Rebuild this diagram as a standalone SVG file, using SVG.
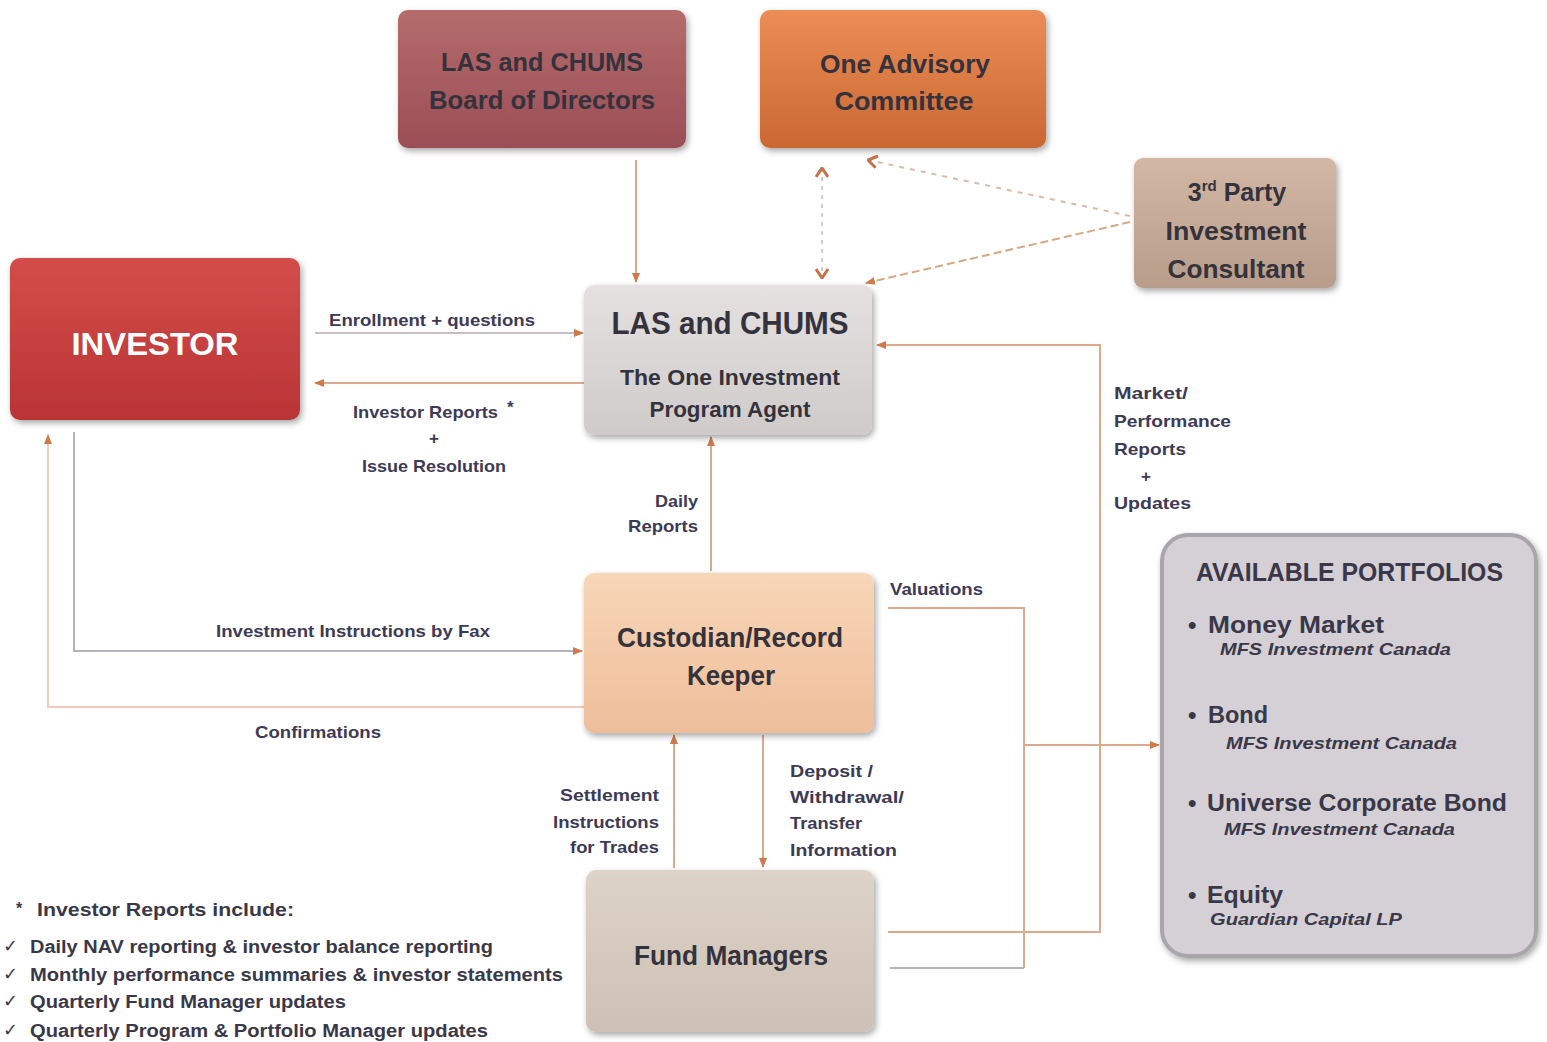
<svg xmlns="http://www.w3.org/2000/svg" width="1547" height="1042" viewBox="0 0 1547 1042">
<style>
.t{font-family:"Liberation Sans",Arial,sans-serif;fill:#3a3848;font-weight:bold}
.n{font-family:"Liberation Sans",Arial,sans-serif;fill:#34323c;font-weight:bold;text-anchor:middle}
.lb{font-family:"Liberation Sans",Arial,sans-serif;fill:#3d3a55;font-weight:bold;font-size:17px}
.it{font-family:"Liberation Sans",Arial,sans-serif;fill:#3a3848;font-weight:bold;font-style:italic;font-size:17px}
.c{fill:none;stroke-width:2}
.pe{stroke:#dca98d}
.gr{stroke:#b4b2ba}
.pk{stroke:#f0cbbd}
.ck{font-family:"DejaVu Sans",sans-serif;fill:#3a3848;font-size:18px}
</style>
<defs>
<filter id="sh" x="-10%" y="-10%" width="125%" height="130%">
<feDropShadow dx="2" dy="3" stdDeviation="3" flood-color="#000" flood-opacity="0.35"/>
</filter>
<linearGradient id="gBoard" x1="0" y1="0" x2="0" y2="1"><stop offset="0" stop-color="#b46c6c"/><stop offset="1" stop-color="#9b4e56"/></linearGradient>
<linearGradient id="gAdv" x1="0" y1="0" x2="0" y2="1"><stop offset="0" stop-color="#ec8d55"/><stop offset="1" stop-color="#cb6733"/></linearGradient>
<linearGradient id="g3rd" x1="0" y1="0" x2="0" y2="1"><stop offset="0" stop-color="#d2b7a4"/><stop offset="1" stop-color="#b99d8b"/></linearGradient>
<linearGradient id="gInv" x1="0" y1="0" x2="0" y2="1"><stop offset="0" stop-color="#d34d4a"/><stop offset="1" stop-color="#b93436"/></linearGradient>
<linearGradient id="gLas" x1="0" y1="0" x2="0" y2="1"><stop offset="0" stop-color="#e4e1e0"/><stop offset="1" stop-color="#cfcbcb"/></linearGradient>
<linearGradient id="gCus" x1="0" y1="0" x2="0" y2="1"><stop offset="0" stop-color="#f8d6b8"/><stop offset="1" stop-color="#eebe9a"/></linearGradient>
<linearGradient id="gFund" x1="0" y1="0" x2="0" y2="1"><stop offset="0" stop-color="#ded3c9"/><stop offset="1" stop-color="#cdc0b4"/></linearGradient>
<marker id="ar" viewBox="0 0 10 10" refX="9" refY="5" markerWidth="10" markerHeight="10" markerUnits="userSpaceOnUse" orient="auto">
<path d="M0 1 L10 5 L0 9 Z" fill="#cf7a4a"/>
</marker>
<marker id="chev" viewBox="0 0 12 14" refX="11" refY="7" markerWidth="12" markerHeight="14" markerUnits="userSpaceOnUse" orient="auto">
<path d="M2 1 L11 7 L2 13" fill="none" stroke="#c8704a" stroke-width="3"/>
</marker>
<marker id="chevS" viewBox="0 0 12 14" refX="1" refY="7" markerWidth="12" markerHeight="14" markerUnits="userSpaceOnUse" orient="auto">
<path d="M10 1 L1 7 L10 13" fill="none" stroke="#c8704a" stroke-width="3"/>
</marker>
</defs>
<rect width="1547" height="1042" fill="#ffffff"/>

<g id="connectors">
<path class="c pe" d="M636 160 V282" marker-end="url(#ar)"/>
<path class="c" stroke="#d4cccc" stroke-dasharray="4 5" d="M822 168 V278" marker-start="url(#chevS)" marker-end="url(#chev)"/>
<path class="c" stroke="#d8bca8" stroke-dasharray="5 6" d="M1130 216 L868 160" marker-end="url(#chev)"/>
<path class="c" stroke="#d6a882" stroke-dasharray="8 4" d="M1130 222 L866 283" marker-end="url(#ar)"/>
<path class="c" stroke="#c6c0c4" d="M315 333 H583" marker-end="url(#ar)"/>
<path class="c pe" d="M584 383 H315" marker-end="url(#ar)"/>
<path class="c pe" d="M711 571 V437" marker-end="url(#ar)"/>
<path class="c gr" d="M74 432 V651 H582" marker-end="url(#ar)"/>
<path class="c pk" d="M584 707 H48 V435" marker-end="url(#ar)"/>
<path class="c pe" d="M674 868 V735" marker-end="url(#ar)"/>
<path class="c pe" d="M763 735 V867" marker-end="url(#ar)"/>
<path class="c pe" d="M888 608 H1024 V968"/>
<path class="c gr" d="M1024 968 H890"/>
<path class="c pe" d="M1024 745 H1159" marker-end="url(#ar)"/>
<path class="c pe" d="M888 932 H1100 V345 H877" marker-end="url(#ar)"/>
</g>

<g id="board">
<rect x="398" y="10" width="288" height="138" rx="10" fill="url(#gBoard)" filter="url(#sh)"/>
<text class="n" x="542" y="71" font-size="25" font-weight="normal" textLength="202" lengthAdjust="spacingAndGlyphs">LAS and CHUMS</text>
<text class="n" x="542" y="109" font-size="25" font-weight="normal" textLength="226" lengthAdjust="spacingAndGlyphs">Board of Directors</text>
</g>

<g id="advisory">
<rect x="760" y="10" width="286" height="138" rx="10" fill="url(#gAdv)" filter="url(#sh)"/>
<text class="n" x="905" y="73" font-size="26" font-weight="normal" textLength="170" lengthAdjust="spacingAndGlyphs">One Advisory</text>
<text class="n" x="904" y="110" font-size="26" font-weight="normal" textLength="139" lengthAdjust="spacingAndGlyphs">Committee</text>
</g>

<g id="consultant">
<rect x="1134" y="158" width="202" height="130" rx="9" fill="url(#g3rd)" filter="url(#sh)"/>
<text class="n" x="1237" y="201" font-size="25">3<tspan font-size="15" dy="-10">rd</tspan><tspan dy="10"> Party</tspan></text>
<text class="n" x="1236" y="240" font-size="25" textLength="141" lengthAdjust="spacingAndGlyphs">Investment</text>
<text class="n" x="1236" y="278" font-size="25" textLength="137" lengthAdjust="spacingAndGlyphs">Consultant</text>
</g>

<g id="investor">
<rect x="10" y="258" width="290" height="162" rx="10" fill="url(#gInv)" filter="url(#sh)"/>
<text class="n" x="155" y="355" font-size="32" style="fill:#ffffff" textLength="167" lengthAdjust="spacingAndGlyphs">INVESTOR</text>
</g>

<g id="agent">
<rect x="584" y="285" width="288" height="150" rx="10" fill="url(#gLas)" filter="url(#sh)"/>
<text class="n" x="730" y="334" font-size="32" textLength="237" lengthAdjust="spacingAndGlyphs">LAS and CHUMS</text>
<text class="n" x="730" y="385" font-size="22" textLength="220" lengthAdjust="spacingAndGlyphs">The One Investment</text>
<text class="n" x="730" y="417" font-size="22" textLength="161" lengthAdjust="spacingAndGlyphs">Program Agent</text>
</g>

<g id="custodian">
<rect x="584" y="573" width="290" height="160" rx="10" fill="url(#gCus)" filter="url(#sh)"/>
<text class="n" x="730" y="647" font-size="27" textLength="226" lengthAdjust="spacingAndGlyphs">Custodian/Record</text>
<text class="n" x="731" y="685" font-size="27" textLength="88" lengthAdjust="spacingAndGlyphs">Keeper</text>
</g>

<g id="fundmanagers">
<rect x="586" y="870" width="288" height="162" rx="10" fill="url(#gFund)" filter="url(#sh)"/>
<text class="n" x="731" y="965" font-size="27" textLength="194" lengthAdjust="spacingAndGlyphs">Fund Managers</text>
</g>

<g id="portfolios">
<rect x="1162" y="535" width="374" height="421" rx="26" fill="#d4d0d5" stroke="#a9a6ab" stroke-width="4" filter="url(#sh)"/>
<text class="t" x="1196" y="581" font-size="25" textLength="307" lengthAdjust="spacingAndGlyphs">AVAILABLE PORTFOLIOS</text>
<text class="t" x="1188" y="633" font-size="24">•</text>
<text class="t" x="1208" y="633" font-size="24" textLength="176" lengthAdjust="spacingAndGlyphs">Money Market</text>
<text class="it" x="1220" y="655" textLength="231" lengthAdjust="spacingAndGlyphs">MFS Investment Canada</text>
<text class="t" x="1188" y="723" font-size="24">•</text>
<text class="t" x="1208" y="723" font-size="24" textLength="60" lengthAdjust="spacingAndGlyphs">Bond</text>
<text class="it" x="1226" y="749" textLength="231" lengthAdjust="spacingAndGlyphs">MFS Investment Canada</text>
<text class="t" x="1188" y="811" font-size="24">•</text>
<text class="t" x="1207" y="811" font-size="24" textLength="300" lengthAdjust="spacingAndGlyphs">Universe Corporate Bond</text>
<text class="it" x="1224" y="835" textLength="231" lengthAdjust="spacingAndGlyphs">MFS Investment Canada</text>
<text class="t" x="1188" y="903" font-size="24">•</text>
<text class="t" x="1207" y="903" font-size="24" textLength="76" lengthAdjust="spacingAndGlyphs">Equity</text>
<text class="it" x="1210" y="925" textLength="192" lengthAdjust="spacingAndGlyphs">Guardian Capital LP</text>
</g>

<g id="labels">
<text class="lb" x="329" y="326" textLength="206" lengthAdjust="spacingAndGlyphs">Enrollment + questions</text>
<text class="lb" x="353" y="418" textLength="145" lengthAdjust="spacingAndGlyphs">Investor Reports</text>
<text class="lb" x="507" y="413" font-size="15">*</text>
<text class="lb" x="434" y="444" text-anchor="middle">+</text>
<text class="lb" x="362" y="472" textLength="144" lengthAdjust="spacingAndGlyphs">Issue Resolution</text>
<text class="lb" x="655" y="507" textLength="43" lengthAdjust="spacingAndGlyphs">Daily</text>
<text class="lb" x="628" y="532" textLength="70" lengthAdjust="spacingAndGlyphs">Reports</text>
<text class="lb" x="216" y="637" textLength="274" lengthAdjust="spacingAndGlyphs">Investment Instructions by Fax</text>
<text class="lb" x="255" y="738" textLength="126" lengthAdjust="spacingAndGlyphs">Confirmations</text>
<text class="lb" x="890" y="595" textLength="93" lengthAdjust="spacingAndGlyphs">Valuations</text>
<text class="lb" x="1114" y="399" textLength="74" lengthAdjust="spacingAndGlyphs">Market/</text>
<text class="lb" x="1114" y="427" textLength="117" lengthAdjust="spacingAndGlyphs">Performance</text>
<text class="lb" x="1114" y="455" textLength="72" lengthAdjust="spacingAndGlyphs">Reports</text>
<text class="lb" x="1146" y="482" text-anchor="middle">+</text>
<text class="lb" x="1114" y="509" textLength="77" lengthAdjust="spacingAndGlyphs">Updates</text>
<text class="lb" x="560" y="801" textLength="99" lengthAdjust="spacingAndGlyphs">Settlement</text>
<text class="lb" x="553" y="828" textLength="106" lengthAdjust="spacingAndGlyphs">Instructions</text>
<text class="lb" x="570" y="853" textLength="89" lengthAdjust="spacingAndGlyphs">for Trades</text>
<text class="lb" x="790" y="777" textLength="83" lengthAdjust="spacingAndGlyphs">Deposit /</text>
<text class="lb" x="790" y="803" textLength="114" lengthAdjust="spacingAndGlyphs">Withdrawal/</text>
<text class="lb" x="790" y="829" textLength="72" lengthAdjust="spacingAndGlyphs">Transfer</text>
<text class="lb" x="790" y="856" textLength="107" lengthAdjust="spacingAndGlyphs">Information</text>
</g>

<g id="notes">
<text class="t" x="16" y="914" font-size="16">*</text>
<text class="t" x="37" y="916" font-size="18" textLength="257" lengthAdjust="spacingAndGlyphs">Investor Reports include:</text>
<text class="ck" x="3" y="952">✓</text>
<text class="t" x="30" y="953" font-size="18" font-weight="normal" textLength="463" lengthAdjust="spacingAndGlyphs">Daily NAV reporting &amp; investor balance reporting</text>
<text class="ck" x="3" y="980">✓</text>
<text class="t" x="30" y="981" font-size="18" font-weight="normal" textLength="533" lengthAdjust="spacingAndGlyphs">Monthly performance summaries &amp; investor statements</text>
<text class="ck" x="3" y="1007">✓</text>
<text class="t" x="30" y="1008" font-size="18" font-weight="normal" textLength="316" lengthAdjust="spacingAndGlyphs">Quarterly Fund Manager updates</text>
<text class="ck" x="3" y="1036">✓</text>
<text class="t" x="30" y="1037" font-size="18" font-weight="normal" textLength="458" lengthAdjust="spacingAndGlyphs">Quarterly Program &amp; Portfolio Manager updates</text>
</g>
</svg>
